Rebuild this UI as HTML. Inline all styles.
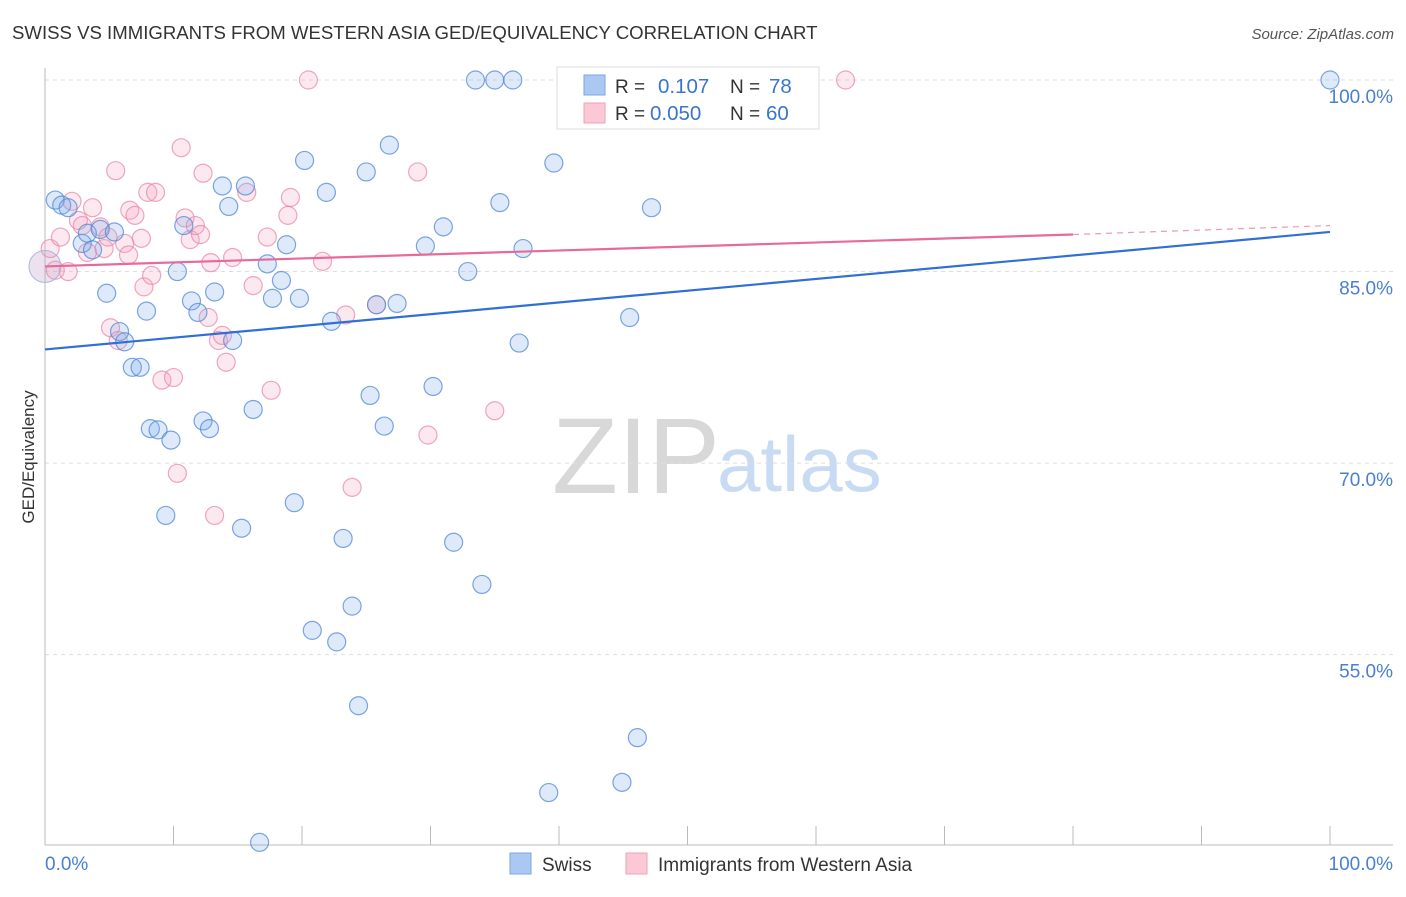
<!DOCTYPE html>
<html><head><meta charset="utf-8"><style>
body{margin:0;background:#fff;font-family:"Liberation Sans",sans-serif}
svg text{font-family:"Liberation Sans",sans-serif}
</style></head><body>
<svg id="chart" width="1406" height="892" viewBox="0 0 1406 892" xmlns="http://www.w3.org/2000/svg">
<text x="12" y="39" font-size="18.6" fill="#333">SWISS VS IMMIGRANTS FROM WESTERN ASIA GED/EQUIVALENCY CORRELATION CHART</text>
<text x="1394" y="39" font-size="15" fill="#555" text-anchor="end" font-style="italic">Source: ZipAtlas.com</text>
<g>
<text x="552" y="493" font-size="108" fill="#d8d8d8" font-family="Liberation Serif,serif">ZIP</text>
<text x="717" y="491" font-size="78" fill="#c9dbf2">atlas</text>
</g>
<g id="grid"></g>
<line x1="45" y1="68" x2="45" y2="845" stroke="#bbb"/>
<line x1="45" y1="845" x2="1393" y2="845" stroke="#bbb"/>
<g id="xticks"></g>
<text x="45" y="870" font-size="19" fill="#4a7fd0">0.0%</text>
<text x="1393" y="870" font-size="19" fill="#4a7fd0" text-anchor="end">100.0%</text>
<text transform="translate(34,457) rotate(-90)" font-size="17" fill="#333" text-anchor="middle">GED/Equivalency</text>
<g id="marks"></g>
<g>
<rect x="557" y="67" width="262" height="62" fill="#fff" stroke="#ddd"/>
<rect x="584" y="75" width="21" height="20" fill="#aac8f2" stroke="#7aa6e3"/>
<rect x="584" y="103" width="21" height="20" fill="#fbc8d6" stroke="#f0a0b8"/>
<text x="615" y="93" font-size="19" fill="#333">R =</text>
<text x="658" y="93" font-size="20.5" fill="#3a75cc">0.107</text>
<text x="730" y="93" font-size="19" fill="#333">N =</text>
<text x="769" y="93" font-size="20.5" fill="#3a75cc">78</text>
<text x="615" y="120" font-size="19" fill="#333">R =</text>
<text x="650" y="120" font-size="20.5" fill="#3a75cc">0.050</text>
<text x="730" y="120" font-size="19" fill="#333">N =</text>
<text x="766" y="120" font-size="20.5" fill="#3a75cc">60</text>
</g>
<g>
<rect x="510" y="853" width="21" height="21" fill="#aac8f2" stroke="#7aa6e3"/>
<text x="542" y="871" font-size="19" fill="#333">Swiss</text>
<rect x="626" y="853" width="21" height="21" fill="#fbc8d6" stroke="#f0a0b8"/>
<text x="658" y="871" font-size="19" fill="#333">Immigrants from Western Asia</text>
</g>
</svg>
<script>
const yTicks=[100,85,70,55];
const yTickLabels=["100.0%","85.0%","70.0%","55.0%"];
const xTicks=[0,10,20,30,40,50,60,70,80,90,100];
const swissX=[0.8,1.3,1.8,2.9,3.3,3.7,4.3,4.8,5.4,5.8,6.2,6.8,7.4,7.9,8.2,8.8,9.4,9.8,10.3,10.8,11.4,11.9,12.3,12.8,13.2,13.8,14.3,14.6,15.3,15.6,16.2,17.3,17.7,18.4,18.8,19.4,19.8,20.2,20.8,21.9,22.3,22.7,23.2,23.9,24.4,25.0,25.3,25.8,26.4,26.8,27.4,29.6,30.2,31.0,31.8,32.9,33.5,34.0,35.0,35.4,36.4,36.9,37.2,39.2,39.6,44.9,45.5,46.1,47.2,100,16.7,41.4,54.5];
const swissY=[90.6,90.2,90.0,87.2,88.0,86.7,88.3,83.3,88.1,80.3,79.5,77.5,77.5,81.9,72.7,72.6,65.9,71.8,85.0,88.6,82.7,81.8,73.3,72.7,83.4,91.7,90.1,79.6,64.9,91.7,74.2,85.6,82.9,84.3,87.1,66.9,82.9,93.7,56.9,91.2,81.1,56.0,64.1,58.8,51.0,92.8,75.3,82.4,72.9,94.9,82.5,87.0,76.0,88.5,63.8,85.0,100,60.5,100,90.4,100,79.4,86.8,44.2,93.5,45.0,81.4,48.5,90.0,100,40.3,100,100];
const asiaX=[0.4,0.8,1.2,1.8,2.1,2.6,2.9,3.3,3.7,4.3,4.6,4.9,5.1,5.5,5.7,6.2,6.5,6.6,7.0,7.5,7.7,8.0,8.3,8.6,9.1,10.0,10.3,10.6,10.9,11.3,11.7,12.1,12.3,12.7,12.9,13.2,13.5,13.8,14.1,14.6,15.7,16.2,17.3,17.6,18.9,19.1,20.5,21.6,23.4,23.9,25.8,29.0,29.8,35.0,62.3];
const asiaY=[86.8,85.1,87.7,85.0,90.5,89.0,88.6,86.5,90.0,88.5,86.8,87.7,80.6,92.9,79.6,87.2,86.3,89.8,89.4,87.6,83.8,91.2,84.7,91.2,76.5,76.7,69.2,94.7,89.2,87.5,88.6,87.9,92.7,81.4,85.7,65.9,79.6,80.0,77.9,86.1,91.2,83.9,87.7,75.7,89.4,90.8,100,85.8,81.6,68.1,82.4,92.8,72.2,74.1,100];
const swissTrend=[78.9,88.1];
const asiaTrend=[85.4,87.9,88.6];
const X=v=>45+v*12.85;
const Y=v=>80+(100-v)*12.77;
const NS="http://www.w3.org/2000/svg";
function mk(tag,attrs,parent){const e=document.createElementNS(NS,tag);for(const k in attrs)e.setAttribute(k,attrs[k]);parent.appendChild(e);return e;}
const grid=document.getElementById('grid');
yTicks.forEach((t,i)=>{
 const l=mk('line',{x1:45,x2:1393,y1:Y(t),y2:Y(t),stroke:'#ddd','stroke-dasharray':'4,4'},grid);
 
 
 const tx=mk('text',{x:1393,y:Y(t)+23,'font-size':19,fill:'#4a7fd0','text-anchor':'end'},grid);
 tx.textContent=yTickLabels[i];
 
 
});
const xt=document.getElementById('xticks');
xTicks.forEach(t=>{
 const l=mk('line',{x1:X(t),x2:X(t),y1:826,y2:845,stroke:'#bbb'},xt);
 
 
});
const marks=document.getElementById('marks');
asiaX.forEach((x,i)=>{
 const c=mk('circle',{cx:X(x),cy:Y(asiaY[i]),r:9,fill:'rgba(245,165,190,0.25)',stroke:'rgba(232,130,165,0.7)','stroke-width':1.2},marks);
 
 
});
swissX.forEach((x,i)=>{
 const c=mk('circle',{cx:X(x),cy:Y(swissY[i]),r:9,fill:'rgba(125,170,235,0.25)',stroke:'rgba(80,135,215,0.75)','stroke-width':1.2},marks);
 
 
});
let b=mk('circle',{cx:X(0),cy:Y(85.4),r:16,fill:'rgba(190,160,200,0.3)',stroke:'#a9b6e0'},marks);


let t1=mk('line',{x1:X(0),y1:Y(swissTrend[0]),x2:X(100),y2:Y(swissTrend[1]),stroke:'#2f6fd6','stroke-width':2.2},marks);


let t2=mk('line',{x1:X(0),y1:Y(asiaTrend[0]),x2:X(80),y2:Y(asiaTrend[1]),stroke:'#e8699a','stroke-width':2.2},marks);


let t3=mk('line',{x1:X(80),y1:Y(asiaTrend[1]),x2:X(100),y2:Y(asiaTrend[2]),stroke:'#e8a0bb','stroke-width':1.3,'stroke-dasharray':'6,5'},marks);


</script>
</body></html>
